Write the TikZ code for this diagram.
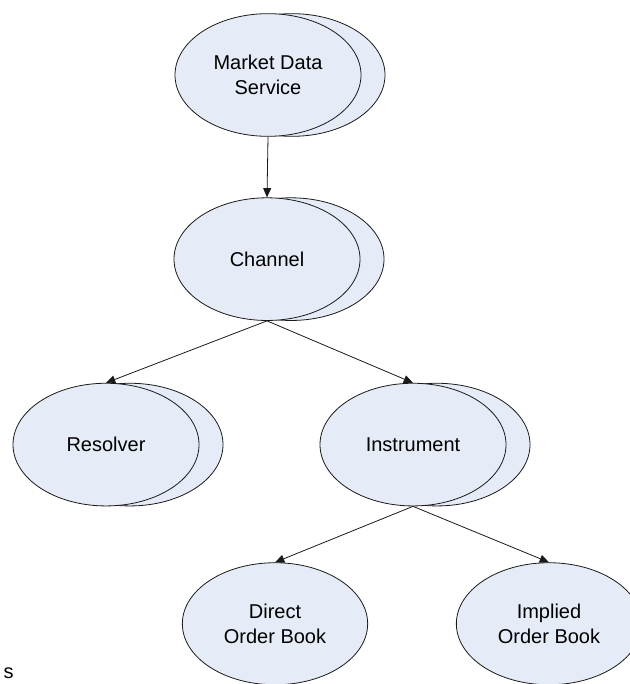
\documentclass[tikz,border=0pt]{standalone}
\usepackage{fontspec}
\setmainfont{Liberation Sans}
\usetikzlibrary{positioning, arrows.meta, shapes.geometric, shadows}
\definecolor{compFill}{HTML}{E6ECF7}
\definecolor{compLine}{HTML}{1A1A1A}

\begin{document}
\begin{tikzpicture}[font=\fontsize{15}{18.5}\selectfont,
    comp/.style={ellipse, draw=compLine, fill=compFill, line width=0.6pt,
      minimum width=139.5pt, minimum height=92pt, inner sep=0pt, align=center,
      copy shadow={shadow xshift=18pt, shadow yshift=0pt, fill=compFill, draw=compLine, line width=0.6pt}},
    leaf/.style={ellipse, draw=compLine, fill=compFill, line width=0.6pt,
      minimum width=139pt, minimum height=91.5pt, inner sep=0pt, align=center},
    link/.style={-{Triangle[length=7pt, width=6pt]}, line width=0.6pt, compLine}]
    \useasboundingbox (0,0) rectangle (471.75pt,-513pt);
    \node[comp] (mds) at (201pt,-56.25pt) {Market Data\\Service};
    \node[comp, below=45.5pt of mds, xshift=-0.75pt] (chan) {Channel};
    \node[comp, below=46.5pt of chan, xshift=-120.75pt] (res) {Resolver};
    \node[comp, below=46.5pt of chan, xshift=109.5pt] (inst) {Instrument};
    \node[leaf, below=42pt of inst, xshift=-103.5pt] (direct) {Direct\\Order Book};
    \node[leaf, below=42pt of inst, xshift=102pt] (implied) {Implied\\Order Book};
    \node[anchor=base west, inner sep=0pt] (stray) at (2.5pt,-509pt) {s};
    \draw[link] (mds.south) -- (chan.north);
    \draw[link] (chan.south) -- (res.north);
    \draw[link] (chan.south) -- (inst.north);
    \draw[link] (inst.south) -- (direct.north);
    \draw[link] (inst.south) -- (implied.north);
  \end{tikzpicture}
\end{document}
